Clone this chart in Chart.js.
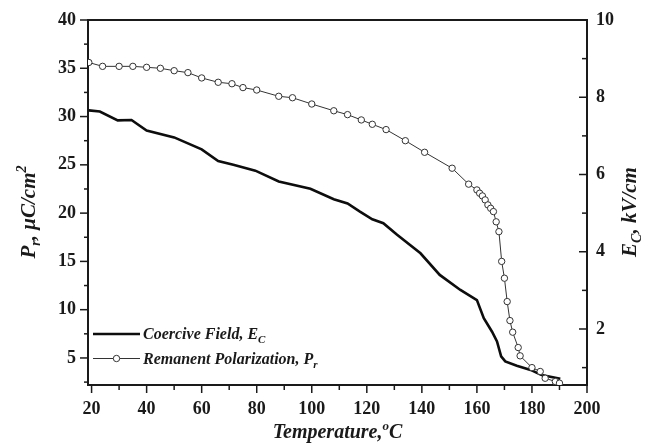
<!DOCTYPE html>
<html>
<head>
<meta charset="utf-8">
<script src="https://cdn.jsdelivr.net/npm/chart.js@4.4.1/dist/chart.umd.min.js"></script>
<style>
  body { margin: 0; background: #fff; }
  canvas { display: block; }
</style>
</head>
<body>
<canvas id="chart" width="651" height="445"></canvas>
<script>
// Remanent polarization Pr (uC/cm2) vs temperature
var tempPr = [19, 24, 30, 35, 40, 45, 50, 55, 60, 66, 71, 75, 80, 88, 93, 100, 108, 113, 118, 122, 127, 134, 141, 151, 157,
              160, 161, 162, 163, 164, 165, 166, 167, 168, 169, 170, 171, 172, 173, 175, 175.7, 180, 183, 184.8, 188.5, 190];
var valuesPr = [35.6, 35.2, 35.2, 35.2, 35.1, 35.0, 34.75, 34.55, 34.0, 33.55, 33.4, 33.0, 32.75, 32.1, 31.95, 31.3, 30.6, 30.2, 29.65, 29.2, 28.65, 27.5, 26.3, 24.65, 23.0,
                22.4, 22.06, 21.78, 21.37, 20.85, 20.5, 20.16, 19.1, 18.08, 15.0, 13.26, 10.84, 8.87, 7.67, 6.08, 5.22, 4.0, 3.6, 2.9, 2.56, 2.39];

// Coercive field Ec (kV/cm) vs temperature
var tempEc = [19, 23, 29.5, 34.5, 40, 50, 60, 66, 71.5, 79.5, 88, 99.5, 108, 113, 117.5, 122, 126, 131, 139.5, 146.5, 154,
              160, 162.5, 165.5, 167.3, 168.8, 170.3, 174.5, 179.5, 183.5, 190.3];
var valuesEc = [7.66, 7.63, 7.40, 7.41, 7.14, 6.96, 6.65, 6.35, 6.25, 6.10, 5.82, 5.63, 5.36, 5.25, 5.04, 4.84, 4.74, 4.44, 3.96, 3.40, 3.01,
                2.75, 2.28, 1.93, 1.68, 1.29, 1.16, 1.05, 0.94, 0.81, 0.71];

// axis ticks
var xTicks = [20, 40, 60, 80, 100, 120, 140, 160, 180, 200];
var xMinor = [30, 50, 70, 90, 110, 130, 150, 170, 190];
var prTicks = [5, 10, 15, 20, 25, 30, 35, 40];
var prMinor = [2.5, 7.5, 12.5, 17.5, 22.5, 27.5, 32.5, 37.5];
var ecTicks = [2, 4, 6, 8, 10];
var ecMinor = [1, 3, 5, 7, 9];

var SERIF = '"Liberation Serif", "Times New Roman", serif';
var INK = '#1a1a1a';

function toPoints(xs, ys) {
    return xs.map(function(x, i) { return { x: x, y: ys[i] }; });
}

function setTicks(values) {
    return function(scale) {
        scale.ticks = values.map(function(v) { return { value: v }; });
    };
}

// text with sub/superscripts: parts = [text, size, shift]
function drawRich(ctx, parts, x, y, align) {
    var w = 0;
    parts.forEach(function(p) {
        ctx.font = 'italic bold ' + p[1] + 'px ' + SERIF;
        w += ctx.measureText(p[0]).width;
    });
    var cx = align === 'center' ? x - w / 2 : x;
    ctx.textAlign = 'left';
    ctx.textBaseline = 'alphabetic';
    parts.forEach(function(p) {
        ctx.font = 'italic bold ' + p[1] + 'px ' + SERIF;
        ctx.fillText(p[0], cx, y + (p[2] || 0));
        cx += ctx.measureText(p[0]).width;
    });
}

function seg(ctx, x1, y1, x2, y2) {
    ctx.beginPath();
    ctx.moveTo(x1, y1);
    ctx.lineTo(x2, y2);
    ctx.stroke();
}

var framePlugin = {
    id: 'frame',
    afterDraw: function(chart) {
        var ctx = chart.ctx;
        var a = chart.chartArea;
        var sx = chart.scales.x, sPr = chart.scales.yPr, sEc = chart.scales.yEc;
        ctx.save();
        ctx.strokeStyle = INK;
        ctx.fillStyle = INK;

        // top edge of the box
        ctx.lineWidth = 2;
        seg(ctx, a.left - 1, a.top, a.right + 1, a.top);

        // tick marks
        ctx.lineWidth = 1.5;
        xTicks.forEach(function(v) { var p = sx.getPixelForValue(v); seg(ctx, p, a.bottom, p, a.bottom + 8); });
        xMinor.forEach(function(v) { var p = sx.getPixelForValue(v); seg(ctx, p, a.bottom, p, a.bottom + 5); });
        prTicks.forEach(function(v) { var p = sPr.getPixelForValue(v); seg(ctx, a.left - 8, p, a.left, p); });
        prMinor.forEach(function(v) { var p = sPr.getPixelForValue(v); seg(ctx, a.left - 4, p, a.left, p); });
        ecTicks.forEach(function(v) { var p = sEc.getPixelForValue(v); seg(ctx, a.right - 8, p, a.right, p); });
        ecMinor.forEach(function(v) { var p = sEc.getPixelForValue(v); seg(ctx, a.right - 5, p, a.right, p); });

        // axis titles
        drawRich(ctx, [['Temperature,', 20], ['o', 13, -8], ['C', 20]], (a.left + a.right) / 2, 438, 'center');

        ctx.save();
        ctx.translate(35, 212);
        ctx.rotate(-Math.PI / 2);
        drawRich(ctx, [['P', 21], ['r', 14, 5], [', \u03bcC/cm', 21], ['2', 14, -9]], 0, 0, 'center');
        ctx.restore();

        ctx.save();
        ctx.translate(636, 212);
        ctx.rotate(-Math.PI / 2);
        drawRich(ctx, [['E', 21], ['C', 14, 5], [', kV/cm', 21]], 0, 0, 'center');
        ctx.restore();

        // legend
        var ec = chart.data.datasets[0], pr = chart.data.datasets[1];
        var lx = a.left + 5, y1 = a.bottom - 51, y2 = a.bottom - 26.5;
        ctx.strokeStyle = ec.borderColor;
        ctx.lineWidth = ec.borderWidth;
        seg(ctx, lx, y1, lx + 47, y1);
        ctx.strokeStyle = pr.borderColor;
        ctx.lineWidth = pr.borderWidth;
        seg(ctx, lx, y2, lx + 47, y2);
        ctx.beginPath();
        ctx.arc(lx + 23.5, y2, pr.pointRadius, 0, Math.PI * 2);
        ctx.fillStyle = pr.pointBackgroundColor;
        ctx.fill();
        ctx.lineWidth = pr.pointBorderWidth;
        ctx.strokeStyle = pr.pointBorderColor;
        ctx.stroke();
        ctx.fillStyle = INK;
        drawRich(ctx, [['Coercive Field, E', 16], ['C', 11, 4]], lx + 50, y1 + 5, 'left');
        drawRich(ctx, [['Remanent Polarization, P', 16], ['r', 11, 4]], lx + 50, y2 + 5, 'left');

        ctx.restore();
    }
};

var tickFont = { family: SERIF, size: 18, weight: 'bold' };

new Chart(document.getElementById('chart').getContext('2d'), {
    type: 'line',
    data: {
        datasets: [
            {
                label: 'Coercive Field, Ec',
                data: toPoints(tempEc, valuesEc),
                yAxisID: 'yEc',
                borderColor: '#0d0d0d',
                borderWidth: 2.6,
                pointRadius: 0,
                tension: 0,
                order: 2
            },
            {
                label: 'Remanent Polarization, Pr',
                data: toPoints(tempPr, valuesPr),
                yAxisID: 'yPr',
                borderColor: '#333333',
                borderWidth: 1,
                pointRadius: 3.2,
                pointBackgroundColor: '#ffffff',
                pointBorderColor: '#333333',
                pointBorderWidth: 1,
                tension: 0,
                order: 1
            }
        ]
    },
    options: {
        responsive: false,
        animation: false,
        layout: { padding: { top: 20, left: 0, right: 0, bottom: 0 } },
        plugins: { legend: { display: false }, tooltip: { enabled: false } },
        scales: {
            x: {
                type: 'linear',
                position: 'bottom',
                min: 18.7,
                max: 200,
                afterBuildTicks: setTicks(xTicks),
                afterFit: function(s) { s.height = 60; },
                grid: { display: false },
                border: { display: true, color: INK, width: 2 },
                ticks: { font: tickFont, color: INK, padding: 6, maxRotation: 0 }
            },
            yPr: {
                type: 'linear',
                position: 'left',
                min: 2.2,
                max: 40,
                afterBuildTicks: setTicks(prTicks),
                afterFit: function(s) { s.width = 88; },
                grid: { display: false },
                border: { display: true, color: INK, width: 2 },
                ticks: { font: tickFont, color: INK, padding: 4 }
            },
            yEc: {
                type: 'linear',
                position: 'right',
                min: 0.55,
                max: 10,
                afterBuildTicks: setTicks(ecTicks),
                afterFit: function(s) { s.width = 64; },
                grid: { display: false },
                border: { display: true, color: INK, width: 2 },
                ticks: { font: tickFont, color: INK, padding: 1 }
            }
        }
    },
    plugins: [framePlugin]
});
</script>
</body>
</html>
